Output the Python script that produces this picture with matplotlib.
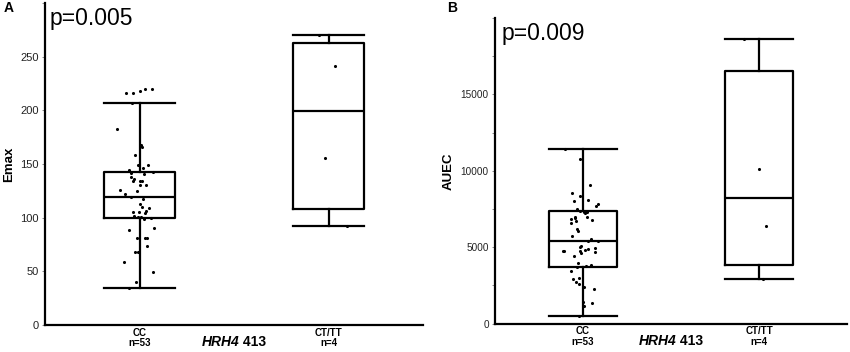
import matplotlib
matplotlib.use("Agg")
import matplotlib.pyplot as plt
import numpy as np

plt.rcParams['font.family'] = ['Liberation Sans', 'DejaVu Sans']

groups = ["CC\nn=53", "CT/TT\nn=4"]

# Panel A: Emax
emax_cc = [216, 216, 218, 219.5, 219.5, 207, 183, 167.5, 166, 158, 149, 149, 146,
           144, 142, 143, 141, 138, 134, 134, 134, 130, 130, 126, 125, 122, 119.5,
           117, 113, 110, 109, 106, 105, 105, 101.5, 101, 101, 99, 100, 88.5, 90,
           81.5, 81.5, 81.5, 74, 68, 68, 58.5, 49, 40, 34.5, 136, 104]
emax_cc_jit = [-0.070, -0.035, 0.005, 0.031, 0.065, -0.038, -0.120, 0.009, 0.014,
               -0.026, -0.009, 0.045, 0.021, -0.058, -0.047, 0.070, 0.023, -0.044,
               -0.035, 0.003, 0.014, 0.035, 0.000, -0.105, -0.014, -0.077, -0.044,
               0.019, 0.000, 0.014, 0.049, 0.035, -0.035, -0.003, -0.028, -0.009,
               0.009, 0.026, 0.061, -0.058, 0.077, -0.014, 0.030, 0.040, 0.042,
               -0.024, -0.007, -0.080, 0.070, -0.016, -0.058, -0.030, 0.030]
emax_ct = [270.5, 241.5, 156, 92]
emax_ct_jit = [-0.049, 0.035, -0.021, 0.099]
# whislo, q1, median, q3, whishi
emax_box_cc = [34.5, 99.5, 119.5, 142.5, 206.5]
emax_box_ct = [92, 108, 199, 263, 270.5]

# Panel B: AUEC
auec_cc = [11400, 10770, 9060, 8520, 8340, 7990, 8060, 7820, 7690, 7490, 7380, 7290,
           7250, 6990, 6830, 6880, 6790, 6590, 6700, 6160, 6070, 5720, 5410, 5410,
           4720, 4720, 5020, 4760, 4590, 4800, 4910, 4650, 3970, 3800, 3710, 3430,
           2900, 2990, 2580, 2400, 2290, 1420, 1310, 1140, 520,
           4850, 5060, 6950, 7300, 3740, 2700, 5500, 4400]
auec_cc_jit = [-0.103, -0.019, 0.038, -0.060, -0.019, -0.053, 0.028, 0.088, 0.073,
               -0.032, -0.019, 0.004, 0.013, 0.024, -0.071, -0.043, 0.053, -0.071,
               -0.038, -0.036, -0.028, -0.060, 0.084, 0.028, -0.116, -0.109, -0.019,
               -0.015, -0.009, 0.009, 0.066, 0.071, -0.028, 0.047, -0.034, -0.071,
               -0.056, -0.024, -0.023, 0.004, 0.064, 0.002, 0.053, 0.006, -0.023,
               0.030, -0.010, -0.045, 0.020, 0.015, -0.040, 0.045, -0.050]
auec_ct = [18630, 10110, 6375, 2920]
auec_ct_jit = [-0.083, 0.002, 0.038, 0.024]
auec_box_cc = [480, 3690, 5390, 7380, 11400]
auec_box_ct = [2920, 3800, 8210, 16530, 18630]


def stats(b):
    return dict(whislo=b[0], q1=b[1], med=b[2], q3=b[3], whishi=b[4], fliers=[])


def panel(ax, box_cc, box_ct, cc, cc_jit, ct, ct_jit, width, ylabel):
    lp = dict(color='black', linewidth=1.6)
    ax.bxp([stats(box_cc), stats(box_ct)], positions=[1, 2], widths=width,
           capwidths=width, showfliers=False, boxprops=lp, whiskerprops=lp,
           capprops=lp, medianprops=lp)
    ax.scatter(1 + np.array(cc_jit), cc, s=5, color='black', zorder=3, linewidths=0)
    ax.scatter(2 + np.array(ct_jit), ct, s=5, color='black', zorder=3, linewidths=0)
    ax.set_xlim(0.5, 2.5)
    ax.set_xticks([1, 2])
    ax.set_xticklabels(groups, fontsize=7, fontweight='bold', linespacing=1.05)
    ax.tick_params(axis='x', length=0, pad=2)
    ax.tick_params(axis='y', which='both', length=2.5, width=0.6, color='#777777',
                   labelcolor='#222222', pad=2)
    for s in ['top', 'right']:
        ax.spines[s].set_visible(False)
    for s in ['left', 'bottom']:
        ax.spines[s].set_linewidth(1.6)
    ax.set_ylabel(ylabel, fontsize=9.5, fontweight='bold', labelpad=4)
    # x axis title: italic gene name + position, centred between groups
    tr = ax.get_xaxis_transform()
    ax.annotate("HRH4", xy=(1.5, 0), xycoords=tr, xytext=(3.9, -12.3),
                textcoords='offset points', ha='right', va='center',
                fontsize=10, fontweight='bold', fontstyle='italic')
    ax.annotate(" 413", xy=(1.5, 0), xycoords=tr, xytext=(3.9, -12.3),
                textcoords='offset points', ha='left', va='center',
                fontsize=10, fontweight='bold')


fig = plt.figure(figsize=(8.5, 3.52), dpi=100)

ax1 = fig.add_axes([45 / 850, 1 - 325 / 352, 378 / 850, 322 / 352])
panel(ax1, emax_box_cc, emax_box_ct, emax_cc, emax_cc_jit, emax_ct, emax_ct_jit,
      0.38, "Emax")
ax1.set_ylim(0, 300)
ax1.set_yticks(np.arange(0, 301, 50))
ax1.set_yticklabels(["0", "50", "100", "150", "200", "250", ""], fontsize=8)
ax1.text(0.013, 0.932, "p=0.005", transform=ax1.transAxes, fontsize=16.5,
         ha='left', va='baseline')

ax2 = fig.add_axes([495 / 850, 1 - 323.5 / 352, 352 / 850, 305.5 / 352])
panel(ax2, auec_box_cc, auec_box_ct, auec_cc, auec_cc_jit, auec_ct, auec_ct_jit,
      0.39, "AUEC")
ax2.set_ylim(0, 20000)
ax2.set_yticks(np.arange(0, 20001, 5000))
ax2.set_yticklabels(["0", "5000", "10000", "15000", ""], fontsize=7.2)
ax2.set_yticks(np.arange(2500, 20000, 5000), minor=True)
ax2.text(0.019, 0.928, "p=0.009", transform=ax2.transAxes, fontsize=16.5,
         ha='left', va='baseline')

fig.text(9 / 850, 1 - 8 / 352, "A", fontsize=10, fontweight='bold', ha='center', va='center')
fig.text(452 / 850, 1 - 8 / 352, "B", fontsize=10, fontweight='bold', ha='center', va='center')

fig.savefig("out.png", dpi=100)
